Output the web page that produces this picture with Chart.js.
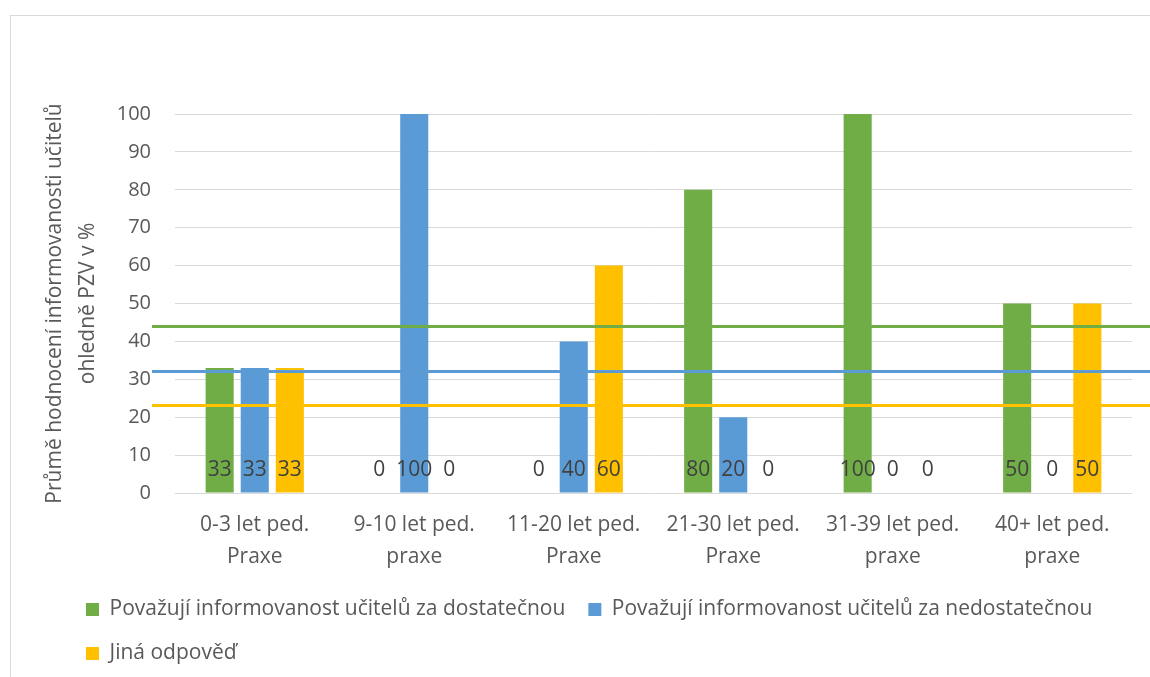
<!DOCTYPE html>
<html>
<head>
<meta charset="utf-8">
<script src="https://cdn.jsdelivr.net/npm/chart.js@4.4.1/dist/chart.umd.min.js"></script>
<style>
  html, body { margin: 0; padding: 0; background: #fff; overflow: hidden; }
  #frame { position: absolute; left: 10px; top: 15px; width: 2000px; height: 2000px; border: 1px solid #d9d9d9; }
  #wrap { position: absolute; left: 0; top: 0; width: 1150px; height: 677px; }
</style>
</head>
<body>
<div id="frame"></div>
<div id="wrap"><canvas id="chart" width="1150" height="677"></canvas></div>
<script>
// chart data
const categories = [
  ['0-3 let ped.', 'Praxe'],
  ['9-10 let ped.', 'praxe'],
  ['11-20 let ped.', 'Praxe'],
  ['21-30 let ped.', 'Praxe'],
  ['31-39 let ped.', 'praxe'],
  ['40+ let ped.', 'praxe']
];
const seriesNames = [
  'Považují informovanost učitelů za dostatečnou',
  'Považují informovanost učitelů za nedostatečnou',
  'Jiná odpověď'
];
const dostatecnou = [33, 0, 0, 80, 100, 50];
const nedostatecnou = [33, 100, 40, 20, 0, 0];
const jina = [33, 0, 60, 0, 0, 50];
const averages = [44, 32.2, 23.2];   // horizontal reference lines
const yTicks = [0, 10, 20, 30, 40, 50, 60, 70, 80, 90, 100];

const colors = ['#70AD47', '#5B9BD5', '#FFC000'];
const FONT = "'Open Sans', sans-serif";

// value labels sitting at the foot of each bar
const valueLabels = {
  id: 'valueLabels',
  afterDatasetsDraw(chart) {
    const ctx = chart.ctx;
    const y0 = chart.scales.y.getPixelForValue(0);
    ctx.save();
    ctx.font = '21px ' + FONT;
    ctx.fillStyle = '#404040';
    ctx.textAlign = 'center';
    ctx.textBaseline = 'middle';
    chart.data.datasets.forEach((ds, i) => {
      chart.getDatasetMeta(i).data.forEach((bar, j) => {
        ctx.fillText(String(ds.data[j]), bar.x, y0 - 23);
      });
    });
    ctx.restore();
  }
};

// average lines running past the plot to the right edge
const avgLines = {
  id: 'avgLines',
  afterDatasetsDraw(chart) {
    const ctx = chart.ctx;
    const y = chart.scales.y;
    ctx.save();
    ctx.lineWidth = 3;
    averages.forEach((v, i) => {
      const py = Math.round(y.getPixelForValue(v)) + 0.5;
      ctx.strokeStyle = colors[i];
      ctx.beginPath();
      ctx.moveTo(152, py);
      ctx.lineTo(chart.width, py);
      ctx.stroke();
    });
    ctx.restore();
  }
};

// move the legend in to line up with the reference
const legendShift = {
  id: 'legendShift',
  afterLayout(chart) {
    const lg = chart.legend;
    if (!lg) return;
    lg.left += 33;
    lg.right += 33;
    lg.top += 4;
    lg.bottom += 4;
  }
};

new Chart(document.getElementById('chart'), {
  type: 'bar',
  data: {
    labels: categories,
    datasets: [
      { label: seriesNames[0], data: dostatecnou, backgroundColor: colors[0] },
      { label: seriesNames[1], data: nedostatecnou, backgroundColor: colors[1] },
      { label: seriesNames[2], data: jina, backgroundColor: colors[2] }
    ]
  },
  options: {
    responsive: false,
    animation: false,
    categoryPercentage: 0.66,
    barPercentage: 0.8,
    layout: { padding: { top: 114, left: 30, right: 18, bottom: 7 } },
    plugins: {
      tooltip: { enabled: false },
      legend: {
        position: 'bottom',
        align: 'start',
        labels: {
          boxWidth: 13,
          boxHeight: 13,
          padding: 23,
          color: '#595959',
          font: { family: FONT, size: 21 }
        }
      }
    },
    scales: {
      x: {
        afterFit(scale) { scale.height = 79; },
        grid: { display: false, drawTicks: false },
        border: { display: false },
        ticks: {
          color: '#595959',
          padding: 16,
          maxRotation: 0,
          font: { family: FONT, size: 21, lineHeight: 1.52 }
        }
      },
      y: {
        min: 0,
        max: 100,
        afterFit(scale) { scale.width = 145; },
        afterBuildTicks(scale) { scale.ticks = yTicks.map(v => ({ value: v })); },
        grid: { color: '#d9d9d9', lineWidth: 1, drawTicks: false },
        border: { display: false },
        ticks: {
          color: '#595959',
          padding: 24,
          font: { family: FONT, size: 20 }
        },
        title: {
          display: true,
          text: ['Průmě hodnocení informovanosti učitelů', 'ohledně PZV v %'],
          color: '#595959',
          padding: { top: 9, bottom: 12 },
          font: { family: FONT, size: 21, lineHeight: 1.57 }
        }
      }
    }
  },
  plugins: [valueLabels, avgLines, legendShift]
});
</script>
</body>
</html>
